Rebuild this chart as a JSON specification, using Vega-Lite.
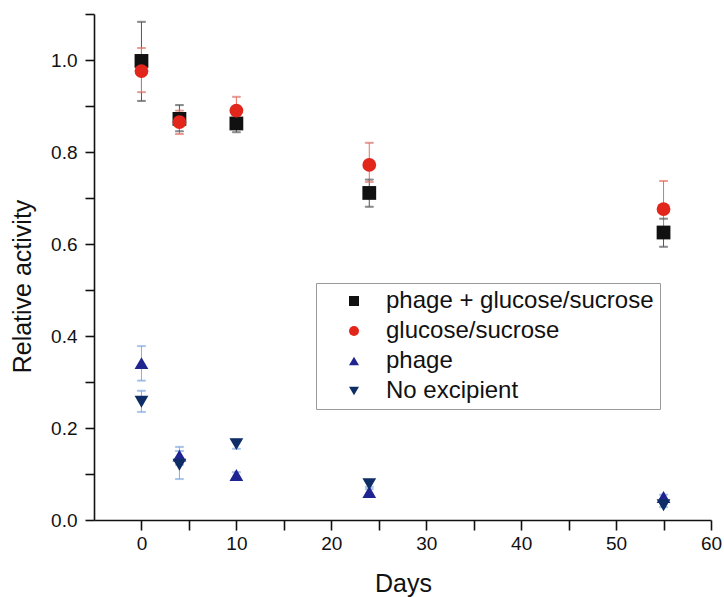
{
  "$schema": "https://vega.github.io/schema/vega-lite/v6.json",
  "autosize": {"type": "none"},
  "padding": {"left": 94, "top": 14, "right": 13, "bottom": 77},
  "width": 617,
  "height": 506,
  "background": "white",
  "config": {
    "view": {"stroke": null},
    "axis": {
      "grid": false,
      "domainColor": "#111111",
      "domainWidth": 1.6,
      "tickColor": "#111111",
      "tickWidth": 1.6,
      "labelFont": "Liberation Sans",
      "labelFontSize": 19,
      "labelColor": "#111111",
      "titleFont": "Liberation Sans",
      "titleFontSize": 25,
      "titleFontWeight": "normal",
      "titleColor": "#111111",
      "labelOverlap": false
    },
    "legend": {
      "orient": "none",
      "legendX": 222,
      "legendY": 269,
      "padding": 6,
      "rowPadding": 6,
      "symbolOffset": 20,
      "labelOffset": 20,
      "labelFont": "Liberation Sans",
      "labelFontSize": 24,
      "labelColor": "#111111",
      "strokeColor": "#9a9a9a",
      "fillColor": "white",
      "symbolSize": 100,
      "labelLimit": 400
    }
  },
  "data": {
    "values": [
      {"series": "phage + glucose/sucrose", "day": 0, "value": 0.998, "lo": 0.911, "hi": 1.083},
      {"series": "phage + glucose/sucrose", "day": 4, "value": 0.872, "lo": 0.845, "hi": 0.902},
      {"series": "phage + glucose/sucrose", "day": 10, "value": 0.862, "lo": 0.843, "hi": 0.88},
      {"series": "phage + glucose/sucrose", "day": 24, "value": 0.711, "lo": 0.681, "hi": 0.74},
      {"series": "phage + glucose/sucrose", "day": 55, "value": 0.625, "lo": 0.594, "hi": 0.655},
      {"series": "glucose/sucrose", "day": 0, "value": 0.976, "lo": 0.93, "hi": 1.026},
      {"series": "glucose/sucrose", "day": 4, "value": 0.865, "lo": 0.839, "hi": 0.89},
      {"series": "glucose/sucrose", "day": 10, "value": 0.89, "lo": 0.86, "hi": 0.92},
      {"series": "glucose/sucrose", "day": 24, "value": 0.772, "lo": 0.735, "hi": 0.82},
      {"series": "glucose/sucrose", "day": 55, "value": 0.676, "lo": 0.62, "hi": 0.737},
      {"series": "phage", "day": 0, "value": 0.341, "lo": 0.303, "hi": 0.378},
      {"series": "phage", "day": 4, "value": 0.14, "lo": 0.12, "hi": 0.159},
      {"series": "phage", "day": 10, "value": 0.098, "lo": 0.092, "hi": 0.104},
      {"series": "phage", "day": 24, "value": 0.061, "lo": 0.055, "hi": 0.067},
      {"series": "phage", "day": 55, "value": 0.05, "lo": 0.045, "hi": 0.055},
      {"series": "No excipient", "day": 0, "value": 0.257, "lo": 0.235, "hi": 0.281},
      {"series": "No excipient", "day": 4, "value": 0.12, "lo": 0.089, "hi": 0.15},
      {"series": "No excipient", "day": 10, "value": 0.165, "lo": 0.155, "hi": 0.175},
      {"series": "No excipient", "day": 24, "value": 0.078, "lo": 0.072, "hi": 0.084},
      {"series": "No excipient", "day": 55, "value": 0.032, "lo": 0.028, "hi": 0.036}
    ]
  },
  "encoding": {
    "x": {
      "field": "day",
      "type": "quantitative",
      "scale": {"domain": [-5, 60], "nice": false, "zero": false},
      "axis": {
        "title": "Days",
        "values": [0, 5, 10, 15, 20, 25, 30, 35, 40, 45, 50, 55, 60],
        "labelExpr": "datum.value % 10 === 0 ? datum.label : ''",
        "labelFlush": false,
        "tickSize": 10,
        "labelPadding": 4,
        "titleX": 309,
        "titleY": 71,
        "titleBaseline": "alphabetic",
        "titleAlign": "center",
        "encode": {"ticks": {"update": {"y2": {"signal": "datum.value % 10 === 0 ? 10 : 5"}}}}
      }
    },
    "y": {
      "field": "value",
      "type": "quantitative",
      "scale": {"domain": [0, 1.1], "nice": false},
      "axis": {
        "title": "Relative activity",
        "values": [0, 0.1, 0.2, 0.3, 0.4, 0.5, 0.6, 0.7, 0.8, 0.9, 1.0, 1.1],
        "labelExpr": "round(datum.value * 10) % 2 === 0 ? format(datum.value, '.1f') : ''",
        "tickSize": 9,
        "labelPadding": 8,
        "titleX": -64,
        "titleY": 272,
        "titleAngle": -90,
        "titleBaseline": "alphabetic",
        "titleAlign": "center",
        "encode": {"ticks": {"update": {"x2": {"signal": "round(datum.value * 10) % 2 === 0 ? -9 : -5"}}}}
      }
    }
  },
  "layer": [
    {
      "encoding": {
        "stroke": {
          "condition": [
            {"test": "datum.series === 'glucose/sucrose'", "value": "#e8705f"},
            {"test": "datum.series === 'phage' || datum.series === 'No excipient'", "value": "#86aee6"}
          ],
          "value": "#555555"
        }
      },
      "layer": [
        {"mark": {"type": "rule", "strokeWidth": 1}, "encoding": {"y": {"field": "lo", "type": "quantitative"}, "y2": {"field": "hi"}}},
        {"mark": {"type": "tick", "orient": "horizontal", "size": 8, "thickness": 1}, "encoding": {"y": {"field": "lo", "type": "quantitative"}}},
        {"mark": {"type": "tick", "orient": "horizontal", "size": 8, "thickness": 1}, "encoding": {"y": {"field": "hi", "type": "quantitative"}}}
      ]
    },
    {
      "mark": {"type": "point", "filled": true, "opacity": 1, "size": 190},
      "encoding": {
        "color": {
          "field": "series",
          "type": "nominal",
          "title": null,
          "scale": {
            "domain": ["phage + glucose/sucrose", "glucose/sucrose", "phage", "No excipient"],
            "range": ["#111111", "#e3261c", "#1f2490", "#0e2d66"]
          }
        },
        "shape": {
          "field": "series",
          "type": "nominal",
          "title": null,
          "scale": {
            "domain": ["phage + glucose/sucrose", "glucose/sucrose", "phage", "No excipient"],
            "range": ["square", "circle", "triangle-up", "triangle-down"]
          }
        }
      }
    }
  ]
}
